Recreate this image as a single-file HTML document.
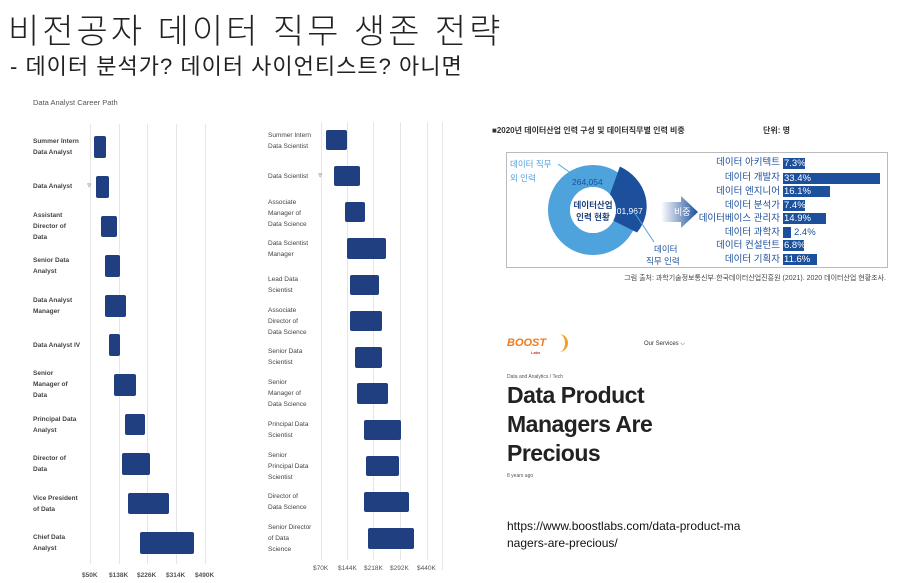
<!DOCTYPE html>
<html><head><meta charset="utf-8"><style>
body{margin:0;width:913px;height:583px;background:#fff;position:relative;overflow:hidden;font-family:"Liberation Sans","Noto Sans CJK KR",sans-serif}
.a{position:absolute;white-space:nowrap}
.l{position:absolute;font-size:6.5px;font-weight:bold;color:#444;line-height:11px}
.b{position:absolute;background:#1f3f80;border-radius:2px}
.g{position:absolute;width:1px;background:#e6e6e6}
.t{position:absolute;font-size:6.5px;font-weight:bold;color:#555}
.kl{position:absolute;right:133px;font-size:9.5px;color:#1c4f9c;width:120px;text-align:right;line-height:12px}
.kb{position:absolute;left:783px;height:11px;background:#1c4f9c;color:#fff;font-size:9.5px;line-height:11px;padding-left:1px}
</style></head><body>
<div class="a" style="left:8px;top:4px;font-size:34px;color:#222;font-weight:300;letter-spacing:3px">비전공자 데이터 직무 생존 전략</div>
<div class="a" style="left:10px;top:49px;font-size:22px;color:#222;letter-spacing:1px">- 데이터 분석가? 데이터 사이언티스트? 아니면</div>
<div class="a" style="left:33px;top:98px;font-size:7.5px;color:#555">Data Analyst Career Path</div>

<!-- left chart -->
<div class="g" style="left:90px;top:124px;height:440px"></div>
<div class="g" style="left:119px;top:124px;height:440px"></div>
<div class="g" style="left:147px;top:124px;height:440px"></div>
<div class="g" style="left:176px;top:124px;height:440px"></div>
<div class="g" style="left:205px;top:124px;height:440px"></div>
<div class="l" style="left:33px;top:136px">Summer Intern<br>Data Analyst</div>
<div class="l" style="left:33px;top:181px">Data Analyst</div>
<div class="a" style="left:87px;top:180px;font-size:8px;color:#999">⩔</div>
<div class="l" style="left:33px;top:210px">Assistant<br>Director of<br>Data</div>
<div class="l" style="left:33px;top:255px">Senior Data<br>Analyst</div>
<div class="l" style="left:33px;top:295px">Data Analyst<br>Manager</div>
<div class="l" style="left:33px;top:340px">Data Analyst IV</div>
<div class="l" style="left:33px;top:368px">Senior<br>Manager of<br>Data</div>
<div class="l" style="left:33px;top:414px">Principal Data<br>Analyst</div>
<div class="l" style="left:33px;top:453px">Director of<br>Data</div>
<div class="l" style="left:33px;top:493px">Vice President<br>of Data</div>
<div class="l" style="left:33px;top:532px">Chief Data<br>Analyst</div>
<div class="b" style="left:94px;top:136px;width:12px;height:22px"></div>
<div class="b" style="left:96px;top:176px;width:13px;height:22px"></div>
<div class="b" style="left:101px;top:216px;width:16px;height:21px"></div>
<div class="b" style="left:105px;top:255px;width:15px;height:22px"></div>
<div class="b" style="left:105px;top:295px;width:21px;height:22px"></div>
<div class="b" style="left:109px;top:334px;width:11px;height:22px"></div>
<div class="b" style="left:114px;top:374px;width:22px;height:22px"></div>
<div class="b" style="left:125px;top:414px;width:20px;height:21px"></div>
<div class="b" style="left:122px;top:453px;width:28px;height:22px"></div>
<div class="b" style="left:128px;top:493px;width:41px;height:21px"></div>
<div class="b" style="left:140px;top:532px;width:54px;height:22px"></div>
<div class="t" style="left:82px;top:572px">$50K</div>
<div class="t" style="left:109px;top:572px">$138K</div>
<div class="t" style="left:137px;top:572px">$226K</div>
<div class="t" style="left:166px;top:572px">$314K</div>
<div class="t" style="left:195px;top:572px">$490K</div>

<!-- middle chart -->
<div class="g" style="left:321px;top:122px;height:438px"></div>
<div class="g" style="left:347px;top:122px;height:438px"></div>
<div class="g" style="left:373px;top:122px;height:438px"></div>
<div class="g" style="left:400px;top:122px;height:438px"></div>
<div class="g" style="left:427px;top:122px;height:438px"></div>
<div class="g" style="left:442px;top:122px;height:448px"></div>
<div class="l" style="left:268px;top:130px;font-weight:normal">Summer Intern<br>Data Scientist</div>
<div class="l" style="left:268px;top:171px;font-weight:normal">Data Scientist</div>
<div class="a" style="left:318px;top:170px;font-size:8px;color:#999">⩔</div>
<div class="l" style="left:268px;top:197px;font-weight:normal">Associate<br>Manager of<br>Data Science</div>
<div class="l" style="left:268px;top:238px;font-weight:normal">Data Scientist<br>Manager</div>
<div class="l" style="left:268px;top:274px;font-weight:normal">Lead Data<br>Scientist</div>
<div class="l" style="left:268px;top:305px;font-weight:normal">Associate<br>Director of<br>Data Science</div>
<div class="l" style="left:268px;top:346px;font-weight:normal">Senior Data<br>Scientist</div>
<div class="l" style="left:268px;top:377px;font-weight:normal">Senior<br>Manager of<br>Data Science</div>
<div class="l" style="left:268px;top:419px;font-weight:normal">Principal Data<br>Scientist</div>
<div class="l" style="left:268px;top:450px;font-weight:normal">Senior<br>Principal Data<br>Scientist</div>
<div class="l" style="left:268px;top:491px;font-weight:normal">Director of<br>Data Science</div>
<div class="l" style="left:268px;top:522px;font-weight:normal">Senior Director<br>of Data<br>Science</div>
<div class="b" style="left:326px;top:130px;width:21px;height:20px"></div>
<div class="b" style="left:334px;top:166px;width:26px;height:20px"></div>
<div class="b" style="left:345px;top:202px;width:20px;height:20px"></div>
<div class="b" style="left:347px;top:238px;width:39px;height:21px"></div>
<div class="b" style="left:350px;top:275px;width:29px;height:20px"></div>
<div class="b" style="left:350px;top:311px;width:32px;height:20px"></div>
<div class="b" style="left:355px;top:347px;width:27px;height:21px"></div>
<div class="b" style="left:357px;top:383px;width:31px;height:21px"></div>
<div class="b" style="left:364px;top:420px;width:37px;height:20px"></div>
<div class="b" style="left:366px;top:456px;width:33px;height:20px"></div>
<div class="b" style="left:364px;top:492px;width:45px;height:20px"></div>
<div class="b" style="left:368px;top:528px;width:46px;height:21px"></div>
<div class="t" style="left:313px;top:565px;font-weight:normal">$70K</div>
<div class="t" style="left:338px;top:565px;font-weight:normal">$144K</div>
<div class="t" style="left:364px;top:565px;font-weight:normal">$218K</div>
<div class="t" style="left:390px;top:565px;font-weight:normal">$292K</div>
<div class="t" style="left:417px;top:565px;font-weight:normal">$440K</div>

<!-- right top -->
<div class="a" style="left:492px;top:125px;font-size:8px;font-weight:bold;color:#333">■2020년 데이터산업 인력 구성 및 데이터직무별 인력 비중</div>
<div class="a" style="left:763px;top:125px;font-size:8px;font-weight:bold;color:#333">단위: 명</div>
<div class="a" style="left:506px;top:152px;width:382px;height:116px;border:1px solid #bbb;box-sizing:border-box"></div>
<svg class="a" style="left:506px;top:152px" width="382" height="116">
<defs><linearGradient id="ar" x1="0" x2="1"><stop offset="0" stop-color="#fff"/><stop offset="1" stop-color="#1c4f9c"/></linearGradient></defs>
<circle cx="87" cy="58" r="34" fill="none" stroke="#4fa3dc" stroke-width="22"/>
<path d="M113.9 14.5 A51 45 0 0 1 131 80.5 L104 67 A20 20 0 0 0 103 45 Z" fill="#1c4f9c"/>
<circle cx="87" cy="58" r="23" fill="#fff"/>
<path d="M155 50 L175 50 L175 44 L192 60 L175 76 L175 70 L155 70 Z" fill="url(#ar)"/>
<text x="168" y="63" font-size="9" fill="#fff" font-family="Liberation Sans,Noto Sans CJK KR,sans-serif">비중</text>
<text x="87" y="56" font-size="8.5" font-weight="bold" fill="#1c3f7c" text-anchor="middle" font-family="Liberation Sans,Noto Sans CJK KR,sans-serif">데이터산업</text>
<text x="87" y="68" font-size="8.5" font-weight="bold" fill="#1c3f7c" text-anchor="middle" font-family="Liberation Sans,Noto Sans CJK KR,sans-serif">인력 현황</text>
<text x="4" y="15" font-size="8.5" fill="#4fa3dc" font-family="Liberation Sans,Noto Sans CJK KR,sans-serif">데이터 직무</text>
<text x="4" y="29" font-size="8.5" fill="#4fa3dc" font-family="Liberation Sans,Noto Sans CJK KR,sans-serif">외 인력</text>
<line x1="52" y1="12" x2="66" y2="22" stroke="#4fa3dc"/>
<text x="66" y="33" font-size="8.5" fill="#1c4f9c" font-family="Liberation Sans,sans-serif">264,054</text>
<text x="106" y="62" font-size="8.5" fill="#fff" font-family="Liberation Sans,sans-serif">101,967</text>
<line x1="128" y1="60" x2="148" y2="90" stroke="#4fa3dc"/>
<text x="148" y="100" font-size="8.5" fill="#1c4f9c" font-family="Liberation Sans,Noto Sans CJK KR,sans-serif">데이터</text>
<text x="140" y="112" font-size="8.5" fill="#1c4f9c" font-family="Liberation Sans,Noto Sans CJK KR,sans-serif">직무 인력</text>
</svg>
<div class="kl" style="top:157px">데이터 아키텍트</div><div class="kb" style="top:158px;width:21px">7.3%</div>
<div class="kl" style="top:172px">데이터 개발자</div><div class="kb" style="top:173px;width:96px">33.4%</div>
<div class="kl" style="top:186px">데이터 엔지니어</div><div class="kb" style="top:186px;width:46px">16.1%</div>
<div class="kl" style="top:200px">데이터 분석가</div><div class="kb" style="top:200px;width:21px">7.4%</div>
<div class="kl" style="top:213px">데이터베이스 관리자</div><div class="kb" style="top:213px;width:42px">14.9%</div>
<div class="kl" style="top:227px">데이터 과학자</div><div class="kb" style="top:227px;width:7px"></div><div class="a" style="left:794px;top:227px;font-size:9.5px;color:#1c4f9c;line-height:12px">2.4%</div>
<div class="kl" style="top:240px">데이터 컨설턴트</div><div class="kb" style="top:240px;width:20px">6.8%</div>
<div class="kl" style="top:254px">데이터 기획자</div><div class="kb" style="top:254px;width:33px">11.6%</div>
<div class="a" style="right:27px;top:273px;font-size:7px;color:#444">그림 출처: 과학기술정보통신부·한국데이터산업진흥원 (2021). 2020 데이터산업 현황조사.</div>

<!-- right bottom -->
<div class="a" style="left:507px;top:337px;font-size:11px;font-weight:bold;font-style:italic;color:#f07a1c">BOOST</div>
<div class="a" style="left:531px;top:350px;font-size:4px;font-weight:bold;color:#c33">Labs</div>
<div class="a" style="left:556px;top:334px;width:9px;height:18px;border-right:3px solid #f0a020;border-radius:0 10px 10px 0"></div>
<div class="a" style="left:644px;top:341px;font-size:6px;color:#333">Our Services ⌵</div>
<div class="a" style="left:507px;top:374px;font-size:5px;color:#555">Data and Analytics / Tech</div>
<div class="a" style="left:507px;top:381px;font-size:23px;font-weight:bold;color:#222;line-height:29px;letter-spacing:-0.5px">Data Product<br>Managers Are<br>Precious</div>
<div class="a" style="left:507px;top:473px;font-size:5px;color:#555">8 years ago</div>
<div class="a" style="left:507px;top:518px;font-size:12px;color:#111;line-height:17px">https://www.boostlabs.com/data-product-ma<br>nagers-are-precious/</div>
</body></html>
